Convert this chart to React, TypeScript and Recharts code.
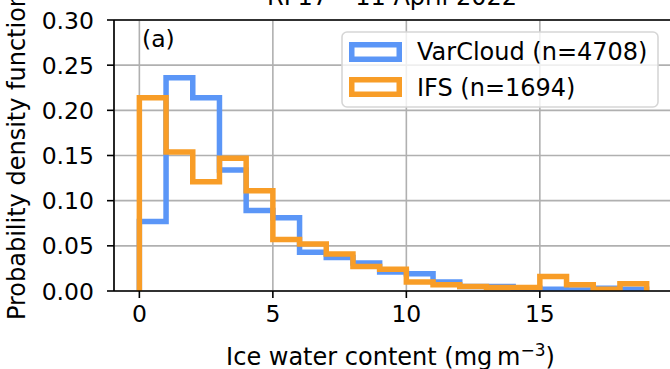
import React from 'react';
import { LineChart, Line, XAxis, YAxis, CartesianGrid, ReferenceLine, Label } from 'recharts';

// histogram bins (left edges, width 1 mg m-3)
const binEdges = [0, 1, 2, 3, 4, 5, 6, 7, 8, 9, 10, 11, 12, 13, 14, 15, 16, 17, 18];
const lastEdge = 19;

// probability density per bin
const varCloudPdf = [0.077, 0.236, 0.214, 0.134, 0.089, 0.081, 0.043, 0.037, 0.031, 0.021, 0.019, 0.010, 0.005, 0.005, 0.003, 0.002, 0.001, 0.003, 0.002];
const ifsPdf = [0.214, 0.154, 0.121, 0.147, 0.111, 0.057, 0.052, 0.041, 0.027, 0.024, 0.010, 0.007, 0.005, 0.004, 0.004, 0.016, 0.007, 0.002, 0.008];

const xTicks = [0, 5, 10, 15];
const yTicks = [0, 0.05, 0.1, 0.15, 0.2, 0.25, 0.3];

const seriesNames = ['VarCloud (n=4708)', 'IFS (n=1694)'];
const titleText = 'RF17 – 11 April 2022';

const BLUE = '#5b96f7';
const ORANGE = '#f89d27';
const FONT = '"DejaVu Sans", sans-serif';
const TICK_FS = 23.5;
const FS = 24;

// step outline: start at 0, one row per bin, close back down at the last edge
const rows = [
  { x: binEdges[0], varcloud: 0, ifs: 0 },
  ...binEdges.map((e, i) => ({ x: e, varcloud: varCloudPdf[i], ifs: ifsPdf[i] })),
  { x: lastEdge, varcloud: 0, ifs: 0 },
];

const XTick = ({ x, y, payload }: any) => (
  <text x={x} y={y} dy={24} textAnchor="middle" fontFamily={FONT} fontSize={TICK_FS} fill="#000">
    {payload.value}
  </text>
);

const YTick = ({ x, y, payload }: any) => (
  <text x={x} y={y} dx={-13} dy={8.5} textAnchor="end" fontFamily={FONT} fontSize={TICK_FS} fill="#000">
    {Number(payload.value).toFixed(2)}
  </text>
);

const XLabel = () => (
  <text x={390.5} y={365} textAnchor="middle" fontFamily={FONT} fontSize={FS} fill="#000">
    {'Ice water content (mg\u2009m'}
    <tspan fontSize={17} dy={-9.5}>−3</tspan>
    <tspan dy={9.5}>)</tspan>
  </text>
);

const YLabel = () => (
  <text
    x={25}
    y={156}
    transform="rotate(-90 25 156)"
    textAnchor="middle"
    fontFamily={FONT}
    fontSize={FS}
    fill="#000"
  >
    Probability density function
  </text>
);

export default function App() {
  return (
    <div style={{ position: 'absolute', left: 0, top: 0, width: 670, height: 369, overflow: 'hidden', background: '#fff' }}>
      <LineChart width={680} height={369} data={rows} margin={{ top: 20, right: 8, bottom: 0, left: 0 }}>
        <CartesianGrid stroke="#b0b0b0" strokeWidth={1.6} />
        <XAxis
          type="number"
          dataKey="x"
          domain={[-0.95, 19.95]}
          ticks={xTicks}
          allowDataOverflow
          height={78}
          tickSize={7}
          tickMargin={0}
          axisLine={{ stroke: '#000', strokeWidth: 1.6 }}
          tickLine={{ stroke: '#000', strokeWidth: 1.6 }}
          tick={<XTick />}
        >
          <Label content={<XLabel />} />
        </XAxis>
        <YAxis
          type="number"
          domain={[0, 0.3]}
          ticks={yTicks}
          allowDataOverflow
          width={114}
          tickSize={7}
          tickMargin={0}
          axisLine={{ stroke: '#000', strokeWidth: 1.6 }}
          tickLine={{ stroke: '#000', strokeWidth: 1.6 }}
          tick={<YTick />}
        >
          <Label content={<YLabel />} />
        </YAxis>
        <ReferenceLine y={0.3} stroke="#000" strokeWidth={1.6} />
        <Line
          type="stepAfter"
          dataKey="varcloud"
          stroke={BLUE}
          strokeWidth={5.5}
          strokeLinejoin="miter"
          dot={false}
          activeDot={false}
          isAnimationActive={false}
        />
        <Line
          type="stepAfter"
          dataKey="ifs"
          stroke={ORANGE}
          strokeWidth={5.5}
          strokeLinejoin="miter"
          dot={false}
          activeDot={false}
          isAnimationActive={false}
        />
      </LineChart>
      <svg width={670} height={369} style={{ position: 'absolute', left: 0, top: 0, pointerEvents: 'none' }}>
        <text x={392} y={5} textAnchor="middle" fontFamily={FONT} fontSize={FS} fill="#000">
          {titleText}
        </text>
        <text x={142} y={47} fontFamily={FONT} fontSize={TICK_FS} fill="#000">
          (a)
        </text>
        <rect x={342} y={32} width={316} height={75} rx={5} fill="#fff" fillOpacity={0.8} stroke="#d6d6d6" strokeWidth={1.6} />
        <rect x={351.75} y={44.75} width={47.5} height={14.5} fill="none" stroke={BLUE} strokeWidth={5.5} />
        <rect x={351.75} y={79.75} width={47.5} height={14.5} fill="none" stroke={ORANGE} strokeWidth={5.5} />
        <text x={417} y={60} fontFamily={FONT} fontSize={FS} fill="#000">
          {seriesNames[0]}
        </text>
        <text x={417} y={95.5} fontFamily={FONT} fontSize={FS} fill="#000">
          {seriesNames[1]}
        </text>
      </svg>
    </div>
  );
}
